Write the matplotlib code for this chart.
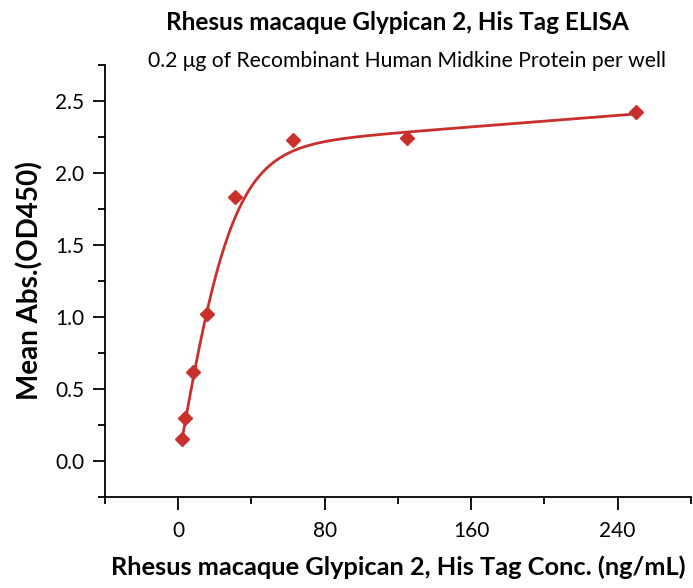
import numpy as np
import matplotlib
matplotlib.use("Agg")
import matplotlib.pyplot as plt
from matplotlib.ticker import MultipleLocator, FormatStrFormatter

plt.rcParams['font.family'] = ['Lato', 'DejaVu Sans']

conc = [1.95, 3.9, 7.8, 15.6, 31.25, 62.5, 125, 250]
absorbance = [0.15, 0.30, 0.62, 1.02, 1.83, 2.23, 2.24, 2.42]

# positions along the drawn fit line
curve_conc = [1.95, 4.3, 8.6, 16.0, 24.8, 30.3, 33.9, 43.0, 52.1, 61.2, 70.4, 79.5, 105, 125, 250]
curve_abs = [0.15, 0.30, 0.62, 1.03, 1.44, 1.68, 1.79, 1.98, 2.08, 2.15, 2.19, 2.215, 2.245, 2.265, 2.42]

title = "Rhesus macaque Glypican 2, His Tag ELISA"
subtitle = "0.2 \u03bcg of Recombinant Human Midkine Protein per well"
xlabel = "Rhesus macaque Glypican 2, His Tag Conc. (ng/mL)"
ylabel = "Mean Abs.(OD450)"

red = "#C9302C"


def model(x, p):
    # saturating rise with a slow linear drift on the plateau
    a, d, logt, k = p
    return a + d * np.tanh(x / np.exp(logt)) + k * x


def fit_model(x, y):
    p = np.array([0.0, 2.1, np.log(30.0), 0.001])
    lam = 1e-2
    n = len(p)
    for _ in range(600):
        r = y - model(x, p)
        J = np.empty((len(x), n))
        for k in range(n):
            dp = np.zeros(n)
            dp[k] = 1e-6
            J[:, k] = (model(x, p + dp) - model(x, p - dp)) / 2e-6
        A = J.T @ J
        g = J.T @ r
        step = np.linalg.solve(A + lam * np.diag(np.diag(A)) + 1e-12 * np.eye(n), g)
        new = p + step
        if np.sum((y - model(x, new)) ** 2) < np.sum(r ** 2):
            p = new
            lam *= 0.5
        else:
            lam *= 4
    return p


x = np.array(conc)
y = np.array(absorbance)
params = fit_model(np.array(curve_conc), np.array(curve_abs))
xs = np.linspace(x.min(), x.max(), 400)

fig = plt.figure(figsize=(6.93, 5.88), dpi=100)
ax = fig.add_axes([0.1515, 0.1548, 0.8455, 0.7347])

ax.plot(xs, model(xs, params), color=red, lw=2)
ax.plot(x, y, linestyle="none", marker="D", color=red, markersize=7.5)

ax.set_xlim(-40, 280)
ax.set_ylim(-0.25, 2.75)
ax.xaxis.set_major_locator(MultipleLocator(80))
ax.xaxis.set_minor_locator(MultipleLocator(40))
ax.yaxis.set_major_locator(MultipleLocator(0.5))
ax.yaxis.set_minor_locator(MultipleLocator(0.25))
ax.yaxis.set_major_formatter(FormatStrFormatter("%.1f"))

for side in ["top", "right"]:
    ax.spines[side].set_visible(False)
for side in ["left", "bottom"]:
    ax.spines[side].set_linewidth(1.3)

ax.tick_params(which="major", direction="out", length=9, width=1.3, labelsize=15, pad=6)
ax.tick_params(which="minor", direction="out", length=5, width=1.3)
ax.tick_params(axis="x", pad=8)

ax.set_xlabel(xlabel, fontsize=18.3, fontweight="bold", labelpad=11)
ax.set_ylabel(ylabel, fontsize=20, fontweight="bold", labelpad=8)

fig.text(0.574, 0.962, title, ha="center", va="center", fontsize=17.5, fontweight="bold")
fig.text(0.588, 0.897, subtitle, ha="center", va="center", fontsize=15.2)

fig.savefig("out.png", dpi=100)
